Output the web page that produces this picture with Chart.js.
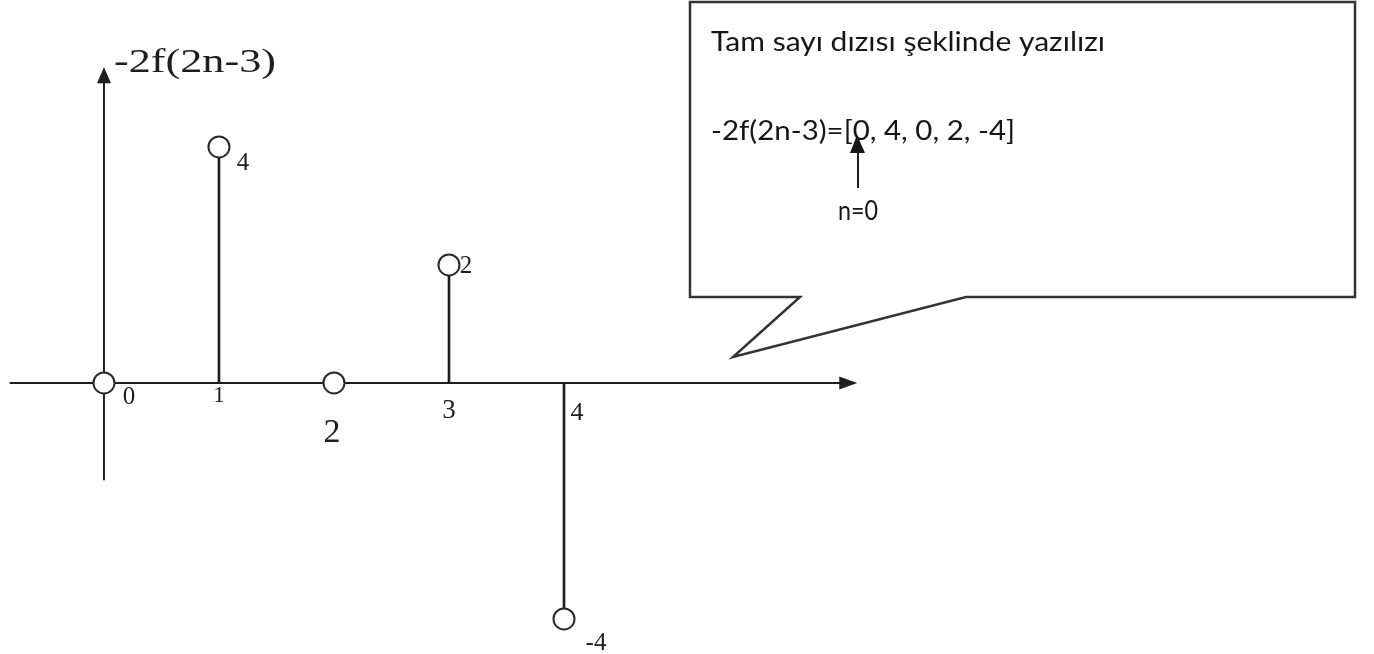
<!DOCTYPE html>
<html>
<head>
<meta charset="utf-8">
<script src="https://cdn.jsdelivr.net/npm/chart.js@4.4.0/dist/chart.umd.min.js"></script>
<style>
  html, body { margin: 0; padding: 0; background: #fff; }
  #wrap { width: 1374px; height: 654px; position: relative; }
</style>
</head>
<body>
<div id="wrap"><canvas id="myChart"></canvas></div>
<script>
// 数列 -2f(2n-3) の値
var nValues = [0, 1, 2, 3, 4];
var seqValues = [0, 4, 0, 2, -4];
var tickLabels = ['0', '1', '2', '3', '4'];
var valueLabels = ['', '4', '', '2', '-4'];
var yTitle = '-2f(2n-3)';
var noteTitle = 'Tam sayı dızısı şeklinde yazılızı';
var noteSeq = '-2f(2n-3)=[0, 4, 0, 2, -4]';
var notePointer = 'n=0';

// 軸の範囲 (データ単位)
var xRange = [-0.904, 11.043];
var yRange = [-4.594, 6.49];
var xAxisSpan = [-0.82, 6.55];
var yAxisSpan = [-1.65, 5.35];

// ラベル位置の微調整 [dx, dy, fontSize]
var tickOffsets = [[25, 15, 25], [0, 13, 23], [-2, 50, 34], [0, 28, 27], [13, 30, 26]];
var valueOffsets = [null, [24, 17, 25], null, [17, 2, 25], [32, 24, 25]];

var ink = '#1e1e1e';
var serif = '"Liberation Serif", "DejaVu Serif", serif';
var sans = 'Lato, "Open Sans", sans-serif';

// 横幅を合わせて文字を描く
function fitText(ctx, text, x, y, width) {
  var w = ctx.measureText(text).width;
  ctx.save();
  ctx.translate(x, y);
  ctx.scale(width / w, 1);
  ctx.fillText(text, 0, 0);
  ctx.restore();
}

var stemPlugin = {
  id: 'stemAxes',
  beforeDatasetsDraw: function(chart) {
    var ctx = chart.ctx, xs = chart.scales.x, ys = chart.scales.y;
    var x0 = xs.getPixelForValue(0), y0 = ys.getPixelForValue(0);
    ctx.save();
    ctx.strokeStyle = ink;
    ctx.fillStyle = ink;
    ctx.lineWidth = 2;

    // 横軸
    var xa = xs.getPixelForValue(xAxisSpan[0]), xb = xs.getPixelForValue(xAxisSpan[1]);
    ctx.beginPath(); ctx.moveTo(xa, y0); ctx.lineTo(xb - 12, y0); ctx.stroke();
    ctx.beginPath(); ctx.moveTo(xb, y0); ctx.lineTo(xb - 18, y0 - 6.5); ctx.lineTo(xb - 18, y0 + 6.5); ctx.closePath(); ctx.fill();

    // 縦軸
    var ya = ys.getPixelForValue(yAxisSpan[0]), yb = ys.getPixelForValue(yAxisSpan[1]);
    ctx.beginPath(); ctx.moveTo(x0, ya); ctx.lineTo(x0, yb + 10); ctx.stroke();
    ctx.beginPath(); ctx.moveTo(x0, yb); ctx.lineTo(x0 - 7, yb + 16); ctx.lineTo(x0 + 7, yb + 16); ctx.closePath(); ctx.fill();

    // 縦軸のタイトル
    ctx.font = '33px ' + serif;
    ctx.textAlign = 'left';
    ctx.textBaseline = 'alphabetic';
    fitText(ctx, yTitle, x0 + 10, yb + 5, 162);

    // 目盛りラベル
    ctx.textAlign = 'center';
    ctx.textBaseline = 'middle';
    for (var i = 0; i < nValues.length; i++) {
      var o = tickOffsets[i];
      ctx.font = o[2] + 'px ' + serif;
      ctx.fillText(tickLabels[i], xs.getPixelForValue(nValues[i]) + o[0], y0 + o[1]);
    }
    ctx.restore();
  },
  afterDatasetsDraw: function(chart) {
    var ctx = chart.ctx, xs = chart.scales.x, ys = chart.scales.y;
    ctx.save();
    ctx.fillStyle = ink;
    ctx.textAlign = 'center';
    ctx.textBaseline = 'middle';
    for (var i = 0; i < nValues.length; i++) {
      if (!valueLabels[i]) continue;
      var o = valueOffsets[i];
      ctx.font = o[2] + 'px ' + serif;
      ctx.fillText(valueLabels[i], xs.getPixelForValue(nValues[i]) + o[0], ys.getPixelForValue(seqValues[i]) + o[1]);
    }
    ctx.restore();
  },
  afterDraw: function(chart) {
    // 吹き出し
    var ctx = chart.ctx;
    ctx.save();
    ctx.strokeStyle = '#333';
    ctx.lineWidth = 2.5;
    ctx.fillStyle = '#fff';
    ctx.beginPath();
    ctx.moveTo(690, 2);
    ctx.lineTo(1355, 2);
    ctx.lineTo(1355, 297);
    ctx.lineTo(966, 297);
    ctx.lineTo(733, 357);
    ctx.lineTo(800, 297);
    ctx.lineTo(690, 297);
    ctx.closePath();
    ctx.fill();
    ctx.stroke();

    ctx.fillStyle = '#161616';
    ctx.font = '26px ' + sans;
    ctx.textAlign = 'left';
    ctx.textBaseline = 'alphabetic';
    fitText(ctx, noteTitle, 711, 51, 394);
    fitText(ctx, noteSeq, 711, 140, 304);
    ctx.textAlign = 'center';
    fitText(ctx, notePointer, 858, 220, 40);

    // n=0 の矢印
    ctx.strokeStyle = ink;
    ctx.lineWidth = 2;
    ctx.beginPath(); ctx.moveTo(858, 188); ctx.lineTo(858, 150); ctx.stroke();
    ctx.beginPath(); ctx.moveTo(857, 135); ctx.lineTo(850, 153); ctx.lineTo(865, 153); ctx.closePath(); ctx.fill();
    ctx.restore();
  }
};

var points = nValues.map(function(n, i) { return { x: n, y: seqValues[i] }; });

var ctx = document.getElementById('myChart').getContext('2d');
var chart = new Chart(ctx, {
  type: 'bar',
  data: {
    datasets: [
      {
        type: 'scatter',
        data: points,
        pointRadius: 10.5,
        pointBackgroundColor: '#fff',
        pointBorderColor: '#2a2a2a',
        pointBorderWidth: 2,
        order: 0,
        clip: false
      },
      {
        type: 'bar',
        data: points,
        backgroundColor: ink,
        barThickness: 2,
        order: 1,
        clip: false
      }
    ]
  },
  options: {
    responsive: true,
    maintainAspectRatio: false,
    animation: false,
    events: [],
    layout: { padding: 0, autoPadding: false },
    plugins: { legend: { display: false }, tooltip: { enabled: false } },
    scales: {
      x: { type: 'linear', display: false, offset: false, min: xRange[0], max: xRange[1] },
      y: { type: 'linear', display: false, min: yRange[0], max: yRange[1] }
    }
  },
  plugins: [stemPlugin]
});
</script>
</body>
</html>
